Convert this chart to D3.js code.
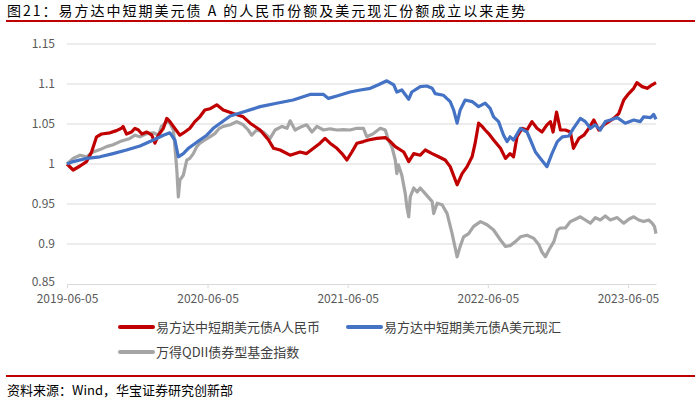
<!DOCTYPE html>
<html>
<head>
<meta charset="utf-8">
<script src="https://cdn.jsdelivr.net/npm/d3@7"></script>
<style>
  body { margin: 0; background: #fff; }
  svg { display: block; font-family: "Noto Sans CJK SC", "Noto Sans", sans-serif; }
</style>
</head>
<body>
<figure id="chart" style="margin:0"></figure>
<script>
const titleText = "图21：易方达中短期美元债 A 的人民币份额及美元现汇份额成立以来走势";
const sourceText = "资料来源：Wind，华宝证券研究创新部";
const seriesNames = ["易方达中短期美元债A人民币", "易方达中短期美元债A美元现汇", "万得QDII债券型基金指数"];
const seriesColors = ["#C00000", "#4472C4", "#A5A5A5"];
const yTicks = [0.85, 0.9, 0.95, 1, 1.05, 1.1, 1.15];
const yTickLabels = ["0.85", "0.9", "0.95", "1", "1.05", "1.1", "1.15"];
const xTicks = ["2019-06-05", "2020-06-05", "2021-06-05", "2022-06-05", "2023-06-05"];
const xStart = "2019-06-05";
const xEnd = "2023-08-17";

// 人民币份额
const cnyDates = ["2019-06-05","2019-06-21","2019-07-09","2019-07-26","2019-08-08","2019-08-21","2019-09-03","2019-09-25","2019-10-12","2019-10-25","2019-10-29","2019-11-07","2019-11-20","2019-11-29","2019-12-08","2019-12-17","2019-12-30","2020-01-12","2020-01-20","2020-01-29","2020-02-11","2020-02-20","2020-02-28","2020-03-08","2020-03-25","2020-04-07","2020-04-20","2020-05-03","2020-05-16","2020-05-29","2020-06-11","2020-06-29","2020-07-16","2020-08-11","2020-09-06","2020-09-24","2020-10-20","2020-11-11","2020-11-24","2020-12-11","2021-01-06","2021-02-01","2021-02-18","2021-03-08","2021-03-25","2021-04-07","2021-04-20","2021-05-08","2021-05-21","2021-06-03","2021-06-16","2021-06-29","2021-07-16","2021-07-29","2021-08-20","2021-09-11","2021-09-24","2021-10-07","2021-10-29","2021-11-11","2021-11-24","2021-12-11","2021-12-24","2022-01-11","2022-01-28","2022-02-14","2022-02-27","2022-03-17","2022-03-30","2022-04-12","2022-04-25","2022-05-03","2022-05-12","2022-05-21","2022-05-29","2022-06-07","2022-06-20","2022-07-08","2022-07-21","2022-08-02","2022-08-11","2022-08-20","2022-09-02","2022-09-15","2022-09-28","2022-10-11","2022-10-24","2022-11-06","2022-11-15","2022-11-22","2022-12-01","2022-12-11","2022-12-24","2023-01-06","2023-01-14","2023-01-28","2023-02-10","2023-02-23","2023-03-08","2023-03-21","2023-04-03","2023-04-16","2023-04-29","2023-05-12","2023-05-25","2023-06-07","2023-06-20","2023-06-28","2023-07-12","2023-07-25","2023-08-07","2023-08-17"];
const cnyValues = [1.000,0.9925,0.9975,1.003,1.015,1.034,1.0375,1.039,1.0417,1.0446,1.047,1.0375,1.040,1.0446,1.0425,1.0375,1.040,1.036,1.026,1.036,1.0446,1.057,1.053,1.047,1.036,1.040,1.0446,1.053,1.059,1.0675,1.069,1.074,1.0675,1.063,1.059,1.051,1.0425,1.030,1.0196,1.0175,1.011,1.015,1.013,1.0196,1.026,1.032,1.026,1.0196,1.013,1.005,1.015,1.026,1.028,1.030,1.032,1.033,1.028,1.0217,1.015,1.003,1.013,1.011,1.0175,1.013,1.009,1.005,0.9967,0.974,0.988,0.9967,1.009,1.026,1.051,1.047,1.0425,1.038,1.030,1.0196,1.007,1.013,1.009,1.034,1.0446,1.0425,1.053,1.0446,1.040,1.049,1.053,1.040,1.065,1.0425,1.0425,1.040,1.0196,1.032,1.036,1.0446,1.055,1.0425,1.049,1.053,1.057,1.063,1.080,1.088,1.0946,1.1017,1.0967,1.0946,1.099,1.1017];

// 美元现汇份额
const usdDates = ["2019-06-05","2019-06-21","2019-07-26","2019-08-30","2019-10-03","2019-11-07","2019-12-12","2020-01-16","2020-02-11","2020-02-28","2020-03-12","2020-03-21","2020-04-03","2020-04-16","2020-04-29","2020-05-16","2020-06-03","2020-06-20","2020-07-08","2020-08-03","2020-09-06","2020-10-20","2020-12-02","2021-01-14","2021-02-27","2021-04-03","2021-04-16","2021-05-08","2021-06-11","2021-07-08","2021-08-03","2021-08-24","2021-09-15","2021-10-03","2021-10-11","2021-10-24","2021-11-11","2021-11-19","2021-12-11","2021-12-28","2022-01-11","2022-01-19","2022-02-09","2022-02-27","2022-03-08","2022-03-17","2022-03-25","2022-04-07","2022-04-25","2022-05-12","2022-05-29","2022-06-11","2022-06-20","2022-07-03","2022-07-16","2022-07-25","2022-08-02","2022-08-11","2022-08-29","2022-09-15","2022-09-24","2022-10-07","2022-10-20","2022-11-06","2022-11-19","2022-12-03","2022-12-16","2023-01-02","2023-01-14","2023-02-01","2023-02-14","2023-02-27","2023-03-12","2023-03-25","2023-04-07","2023-04-20","2023-05-08","2023-05-29","2023-06-20","2023-07-07","2023-07-16","2023-08-03","2023-08-11","2023-08-17"];
const usdValues = [1.000,1.003,1.007,1.009,1.013,1.0175,1.0225,1.030,1.036,1.039,1.030,1.009,1.013,1.0196,1.024,1.030,1.036,1.0446,1.051,1.060,1.065,1.0717,1.076,1.080,1.087,1.087,1.082,1.085,1.090,1.0925,1.0946,1.099,1.104,1.099,1.090,1.0925,1.081,1.090,1.0967,1.0975,1.0946,1.088,1.086,1.078,1.0675,1.051,1.0675,1.080,1.078,1.0717,1.076,1.0696,1.059,1.053,1.036,1.028,1.034,1.030,1.0446,1.040,1.030,1.015,1.007,0.9967,1.013,1.028,1.034,1.035,1.0446,1.057,1.053,1.0446,1.049,1.0425,1.053,1.055,1.058,1.051,1.055,1.053,1.059,1.058,1.062,1.056];

// 万得QDII债券型基金指数
const qdiiDates = ["2019-06-05","2019-06-21","2019-07-09","2019-07-26","2019-08-12","2019-08-30","2019-09-16","2019-10-03","2019-10-21","2019-11-03","2019-11-16","2019-11-29","2019-12-12","2019-12-30","2020-01-16","2020-01-29","2020-02-06","2020-02-20","2020-02-28","2020-03-08","2020-03-12","2020-03-17","2020-03-21","2020-03-25","2020-04-03","2020-04-12","2020-04-20","2020-04-29","2020-05-08","2020-05-16","2020-05-29","2020-06-11","2020-06-24","2020-07-06","2020-07-16","2020-08-03","2020-08-20","2020-09-06","2020-09-19","2020-09-28","2020-10-11","2020-10-28","2020-11-15","2020-11-28","2020-12-16","2020-12-29","2021-01-06","2021-01-19","2021-02-06","2021-02-18","2021-03-04","2021-03-17","2021-04-03","2021-04-20","2021-05-08","2021-05-25","2021-06-11","2021-06-29","2021-07-16","2021-07-25","2021-08-11","2021-08-29","2021-09-11","2021-09-19","2021-09-28","2021-10-07","2021-10-11","2021-10-15","2021-10-24","2021-11-02","2021-11-06","2021-11-11","2021-11-15","2021-11-24","2021-12-03","2021-12-11","2021-12-24","2022-01-11","2022-01-15","2022-01-24","2022-02-06","2022-02-19","2022-03-04","2022-03-17","2022-03-25","2022-04-03","2022-04-16","2022-04-29","2022-05-17","2022-06-03","2022-06-20","2022-07-08","2022-07-21","2022-08-02","2022-08-16","2022-08-29","2022-09-15","2022-10-03","2022-10-16","2022-10-24","2022-11-02","2022-11-11","2022-11-24","2022-12-03","2022-12-11","2022-12-24","2023-01-06","2023-01-19","2023-02-01","2023-02-14","2023-02-27","2023-03-12","2023-03-25","2023-04-07","2023-04-20","2023-05-08","2023-05-25","2023-06-07","2023-06-20","2023-07-03","2023-07-16","2023-07-29","2023-08-07","2023-08-13","2023-08-17"];
const qdiiValues = [1.000,1.007,1.011,1.009,1.015,1.018,1.0217,1.024,1.028,1.030,1.032,1.036,1.034,1.038,1.039,1.036,1.047,1.053,1.051,1.0425,1.0217,0.9925,0.959,0.980,0.986,1.005,1.007,1.013,1.0217,1.026,1.030,1.034,1.038,1.0446,1.047,1.049,1.053,1.049,1.0425,1.036,1.0425,1.040,1.032,1.0425,1.047,1.0446,1.054,1.0425,1.047,1.049,1.040,1.047,1.0425,1.044,1.0425,1.043,1.0425,1.0446,1.0446,1.034,1.038,1.0446,1.0425,1.030,1.0217,1.005,0.988,0.999,0.986,0.963,0.947,0.934,0.959,0.970,0.965,0.970,0.963,0.953,0.938,0.951,0.949,0.938,0.913,0.884,0.897,0.909,0.913,0.922,0.928,0.924,0.9175,0.905,0.897,0.898,0.903,0.909,0.911,0.907,0.899,0.890,0.884,0.8925,0.903,0.9175,0.920,0.920,0.928,0.931,0.934,0.930,0.926,0.933,0.930,0.935,0.930,0.933,0.926,0.931,0.934,0.930,0.928,0.930,0.926,0.922,0.913];

const width = 700;
const height = 398;
const parse = d3.timeParse("%Y-%m-%d");

const svg = d3.select("#chart")
  .append("svg")
  .attr("width", width)
  .attr("height", height);

// title + red rules
svg.append("text")
  .attr("x", 7)
  .attr("y", 16)
  .attr("font-size", 14)
  .attr("letter-spacing", 2)
  .attr("fill", "#000")
  .text(titleText);
svg.append("rect").attr("x", 6).attr("y", 20).attr("width", 689).attr("height", 2).attr("fill", "#C00000");
svg.append("rect").attr("x", 6).attr("y", 375).attr("width", 689).attr("height", 2).attr("fill", "#C00000");
svg.append("text")
  .attr("x", 7)
  .attr("y", 395)
  .attr("font-size", 13)
  .attr("fill", "#000")
  .text(sourceText);

const x = d3.scaleTime()
  .domain([parse(xStart), parse(xEnd)])
  .range([67, 656]);
const y = d3.scaleLinear()
  .domain([0.85, 1.15])
  .range([284, 44]);

// gridlines
svg.append("g")
  .selectAll("line")
  .data(yTicks.slice(1))
  .enter()
  .append("line")
  .attr("x1", 67).attr("x2", 656)
  .attr("y1", d => y(d)).attr("y2", d => y(d))
  .attr("stroke", "#D9D9D9")
  .attr("stroke-width", 1);

// y axis labels
const yAxis = svg.append("g")
  .attr("transform", "translate(67,0)")
  .call(d3.axisLeft(y).tickValues(yTicks).tickFormat((d, i) => yTickLabels[i]).tickSize(0).tickPadding(12));
yAxis.select(".domain").remove();
yAxis.selectAll("text")
  .attr("font-size", 12)
  .attr("font-family", "'Noto Sans CJK SC', sans-serif")
  .attr("fill", "#595959");
yAxis.selectAll(".tick").filter(d => d === 0.85).select("text").attr("dy", "0.1em");

// x axis
const xAxis = svg.append("g")
  .attr("transform", "translate(0," + y(0.85) + ")")
  .call(d3.axisBottom(x).tickValues(xTicks.map(parse)).tickFormat(d3.timeFormat("%Y-%m-%d")).tickSize(4).tickSizeOuter(0).tickPadding(4));
xAxis.select(".domain").attr("stroke", "#D9D9D9");
xAxis.selectAll(".tick line").attr("stroke", "#D9D9D9");
xAxis.selectAll("text")
  .attr("font-size", 12)
  .attr("font-family", "'Noto Sans CJK SC', sans-serif")
  .attr("fill", "#595959")
  .attr("dy", "0.9em");

// lines
const line = d3.line()
  .x(d => x(d[0]))
  .y(d => y(d[1]));

const series = [
  { dates: qdiiDates, values: qdiiValues, color: seriesColors[2] },
  { dates: cnyDates, values: cnyValues, color: seriesColors[0] },
  { dates: usdDates, values: usdValues, color: seriesColors[1] }
];

series.forEach(s => {
  const pts = s.dates.map((d, i) => [parse(d), s.values[i]]);
  svg.append("path")
    .datum(pts)
    .attr("d", line)
    .attr("fill", "none")
    .attr("stroke", s.color)
    .attr("stroke-width", 3.2)
    .attr("stroke-linejoin", "round");
});

// legend
const legendItems = [
  { name: seriesNames[0], color: seriesColors[0], x: 120, y: 327 },
  { name: seriesNames[1], color: seriesColors[1], x: 348, y: 327 },
  { name: seriesNames[2], color: seriesColors[2], x: 120, y: 352 }
];
const legend = svg.append("g")
  .selectAll("g")
  .data(legendItems)
  .enter()
  .append("g")
  .attr("transform", d => "translate(" + d.x + "," + d.y + ")");
legend.append("line")
  .attr("x1", 0).attr("x2", 33)
  .attr("stroke", d => d.color)
  .attr("stroke-width", 4)
  .attr("stroke-linecap", "round");
legend.append("text")
  .attr("x", 36)
  .attr("y", 0)
  .attr("dy", "0.35em")
  .attr("font-size", 13)
  .attr("fill", "#404040")
  .text(d => d.name);
</script>
</body>
</html>
